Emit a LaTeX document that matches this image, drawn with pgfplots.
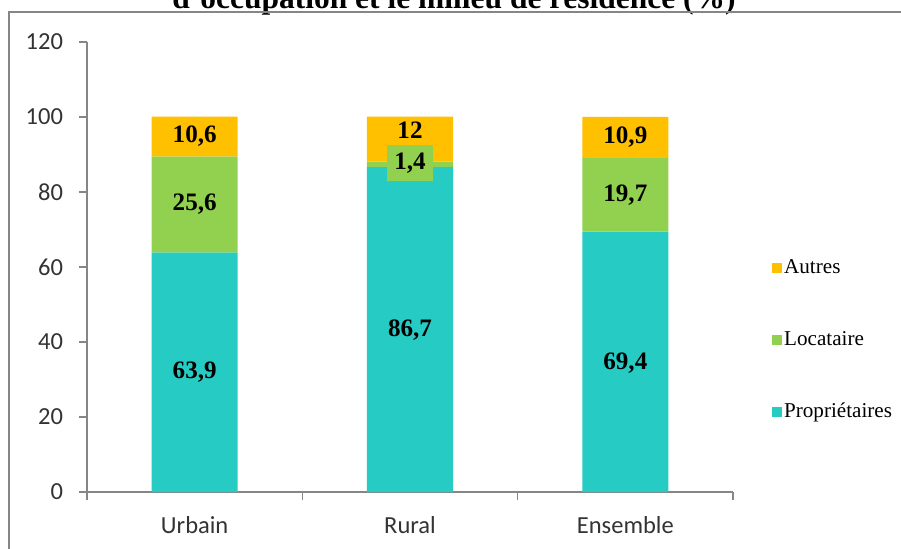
\documentclass[border=0pt]{standalone}
\usepackage{pgfplots}
\pgfplotsset{compat=1.18}
\usepackage{fontspec}
\setmainfont{Liberation Serif}
\newfontfamily\calibri{Carlito}
\definecolor{teal1}{HTML}{26CBC4}
\definecolor{green1}{HTML}{92D050}
\definecolor{orange1}{HTML}{FFC000}
\definecolor{axgray}{HTML}{868686}
\begin{document}
\begin{tikzpicture}
\path[use as bounding box, clip] (0bp,0bp) rectangle (450.5bp,274.5bp);
\node[font=\bfseries\fontsize{15.8}{18}\selectfont, anchor=base, inner sep=0pt] at (227bp,270bp) {d'occupation et le milieu de résidence (\%)};
\draw[axgray, line width=0.8bp] (4.5bp,-10bp) -- (4.5bp,268.5bp) -- (470bp,268.5bp);
\begin{axis}[
  at={(43.5bp,28.5bp)}, anchor=south west,
  scale only axis, width=323bp, height=225bp,
  xmin=0, xmax=3, ymin=0, ymax=120,
  axis x line=bottom, axis y line=left,
  axis line style={axgray, line width=0.75bp, -},
  ytick={0,20,...,120}, xtick={0,1,2,3},
  x tick label as interval,
  xticklabels={Urbain,Rural,Ensemble},
  tick align=outside, major tick length=4bp,
  tick style={axgray, line width=0.75bp},
  ticklabel style={font=\calibri\fontsize{12.3}{14}\selectfont, text=black!80},
  yticklabel style={xshift=-4.5bp},
  xticklabel style={yshift=-4.5bp},
  /pgf/number format/assume math mode=true,
  legend style={at={(1.060,0.338)}, anchor=west, draw=none, fill=none,
    font=\fontsize{10.6}{12}\selectfont, row sep=25.5bp, inner sep=0pt,
    nodes={inner sep=1pt},
    /tikz/every even column/.append style={column sep=0pt}},
  legend cell align=left,
  clip=false,
]
\addlegendimage{legend image code/.code={\path[fill=orange1, draw=none] (0bp,-2.5bp) rectangle (5bp,2.5bp);}}
\addlegendentry{Autres}
\addlegendimage{legend image code/.code={\path[fill=green1, draw=none] (0bp,-2.5bp) rectangle (5bp,2.5bp);}}
\addlegendentry{Locataire}
\addlegendimage{legend image code/.code={\path[fill=teal1, draw=none] (0bp,-2.5bp) rectangle (5bp,2.5bp);}}
\addlegendentry{Propriétaires}
\addplot[ybar stacked, bar width=0.4, fill=teal1, draw=none, forget plot] coordinates {(0.5,63.9) (1.5,86.7) (2.5,69.4)};
\addplot[ybar stacked, bar width=0.4, fill=green1, draw=none, forget plot] coordinates {(0.5,25.6) (1.5,1.4) (2.5,19.7)};
\addplot[ybar stacked, bar width=0.4, fill=orange1, draw=none, forget plot] coordinates {(0.5,10.6) (1.5,12) (2.5,10.9)};
\node[font=\bfseries\fontsize{12.6}{14}\selectfont] at (axis cs:0.5,31.95) {63,9};
\node[font=\bfseries\fontsize{12.6}{14}\selectfont] at (axis cs:0.5,76.8) {25,6};
\node[font=\bfseries\fontsize{12.6}{14}\selectfont] at (axis cs:0.5,94.9) {10,6};
\node[font=\bfseries\fontsize{12.6}{14}\selectfont] at (axis cs:1.5,43.3) {86,7};
\node[font=\bfseries\fontsize{12.6}{14}\selectfont, fill=green1, minimum width=23bp, minimum height=18bp, inner sep=0pt] at (axis cs:1.5,87.7) {1,4};
\node[font=\bfseries\fontsize{12.6}{14}\selectfont] at (axis cs:1.5,96.5) {12};
\node[font=\bfseries\fontsize{12.6}{14}\selectfont] at (axis cs:2.5,34.4) {69,4};
\node[font=\bfseries\fontsize{12.6}{14}\selectfont] at (axis cs:2.5,79.2) {19,7};
\node[font=\bfseries\fontsize{12.6}{14}\selectfont] at (axis cs:2.5,94.7) {10,9};
\end{axis}
\end{tikzpicture}
\end{document}
